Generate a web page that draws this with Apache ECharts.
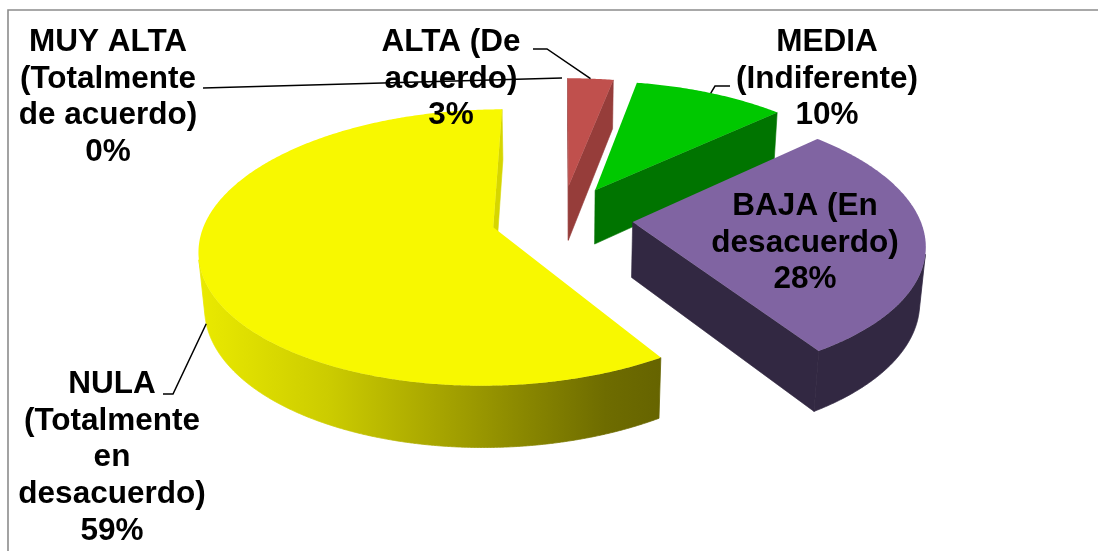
<!DOCTYPE html>
<html>
<head>
<meta charset="utf-8">
<script src="https://cdn.jsdelivr.net/npm/echarts@6/dist/echarts.min.js"></script>
<style>
  html, body { margin: 0; padding: 0; background: #ffffff; }
  #chart { width: 1098px; height: 551px; }
</style>
</head>
<body>
<div id="chart"></div>
<script>
// Survey answers, clockwise from 12 o'clock
const categories = [
  'MUY ALTA\n(Totalmente\nde acuerdo)',
  'ALTA (De\nacuerdo)',
  'MEDIA\n(Indiferente)',
  'BAJA (En\ndesacuerdo)',
  'NULA\n(Totalmente\nen\ndesacuerdo)'
];
const values = [0, 3, 10, 28, 59];

// Face colours per slice: top face, curved rim, cut faces
const palette = [
  { top: '#4F81BD', side: '#385D8A', cut: '#385D8A' },
  { top: '#C0504D', side: '#963D3A', cut: '#963D3A' },
  { top: '#00C800', side: '#007400', cut: '#007400' },
  { top: '#8064A2', side: '#322842', cut: '#322842' },
  { top: '#F8F800', side: null, cut: '#D6D600' }
];
const yellowRimStops = [
  { offset: 0, color: '#EAEA00' },
  { offset: 0.28, color: '#CCCC00' },
  { offset: 0.5, color: '#AAA800' },
  { offset: 0.7, color: '#8A8800' },
  { offset: 0.88, color: '#6E6C00' },
  { offset: 1, color: '#666400' }
];

// 3D view of the pie (unit radius, tilted, with perspective)
const view = {
  cx: 562, cy: 218, scale: 287,
  tilt: 27.5 * Math.PI / 180,
  dist: 6.1,
  thickness: 0.22,
  explode: 0.247
};

// Label boxes (centre x, top y) and leader stubs
const labelLayout = [
  { x: 108, y: 24, stub: [[203, 88]], level: 'top' },
  { x: 451, y: 24, stub: [[533, 49], [547, 49]], level: 'top' },
  { x: 827, y: 24, stub: [[730, 86], [715, 86]], level: 'top' },
  { x: 805, y: 188, stub: null },
  { x: 112, y: 366, stub: [[163, 394], [173, 394]], level: 'bottom' }
];

const font = { fontSize: 31.5, lineHeight: 36.7, fontFamily: '"Liberation Sans", Arial, sans-serif' };

const total = values.reduce((a, b) => a + b, 0);
const starts = [];
values.reduce((acc, v) => { starts.push(acc); return acc + v; }, 0);

const sinT = Math.sin(view.tilt), cosT = Math.cos(view.tilt);
const camera = [0, view.dist * sinT, -view.dist * cosT];

function project(X, Y, Z) {
  const u = Z * sinT + Y * cosT;
  const w = Z * cosT - Y * sinT;
  const s = 1 / (1 + w / view.dist);
  return [view.cx + view.scale * X * s, view.cy - view.scale * u * s];
}

function renderItem(params, api) {
  const i = params.dataIndex;
  const v = api.value(0);
  const a0 = starts[i] / total * Math.PI * 2;
  const a1 = a0 + v / total * Math.PI * 2;
  const mid = (a0 + a1) / 2;
  const ox = view.explode * Math.sin(mid);
  const oz = view.explode * Math.cos(mid);
  const h = view.thickness;
  const rim = (t, y) => project(ox + Math.sin(t), y, oz + Math.cos(t));
  const apex = (y) => project(ox, y, oz);
  const col = palette[i];
  const children = [];
  let z = i * 20;

  if (v > 0) {
    // curved rim: keep only the parts facing the camera
    const n = Math.max(8, Math.ceil((a1 - a0) * 180 / Math.PI * 4));
    const runs = [];
    let run = null;
    for (let k = 0; k <= n; k++) {
      const t = a0 + (a1 - a0) * k / n;
      const px = ox + Math.sin(t), pz = oz + Math.cos(t);
      const facing = (camera[0] - px) * Math.sin(t) + (camera[2] - pz) * Math.cos(t) > 0;
      if (facing) {
        if (!run) { run = []; runs.push(run); }
        run.push(t);
      } else {
        run = null;
      }
    }
    runs.forEach(r => {
      if (r.length < 2) return;
      const pts = r.map(t => rim(t, 0)).concat(r.slice().reverse().map(t => rim(t, -h)));
      const fill = col.side || new echarts.graphic.LinearGradient(0, 0, 1, 0, yellowRimStops);
      children.push({
        type: 'polygon', z2: z++,
        shape: { points: pts },
        style: { fill: fill, stroke: fill, lineWidth: 0.8 }
      });
    });

    // cut faces at the start and end angles
    const startVis = ox * Math.cos(a0) - (view.dist * cosT + oz) * Math.sin(a0) > 0;
    const endVis = -ox * Math.cos(a1) + (view.dist * cosT + oz) * Math.sin(a1) > 0;
    [[a0, startVis], [a1, endVis]].forEach(([a, vis]) => {
      if (!vis) return;
      children.push({
        type: 'polygon', z2: z++,
        shape: { points: [apex(0), rim(a, 0), rim(a, -h), apex(-h)] },
        style: { fill: col.cut, stroke: col.cut, lineWidth: 0.6 }
      });
    });

    // top face
    const topPts = [apex(0)];
    const m = Math.max(8, Math.ceil((a1 - a0) * 180 / Math.PI * 2));
    for (let k = 0; k <= m; k++) topPts.push(rim(a0 + (a1 - a0) * k / m, 0));
    children.push({
      type: 'polygon', z2: z++,
      shape: { points: topPts },
      style: { fill: col.top }
    });
  }

  // data label
  const lay = labelLayout[i];
  const pct = Math.round(v / total * 100);
  children.push({
    type: 'text', z2: 200,
    x: lay.x, y: lay.y,
    style: {
      text: categories[i] + '\n' + pct + '%',
      fill: '#000000',
      fontSize: font.fontSize,
      fontWeight: 'bold',
      fontFamily: font.fontFamily,
      lineHeight: font.lineHeight,
      align: 'center',
      verticalAlign: 'top'
    }
  });

  // leader line from the label to the slice edge
  if (lay.stub) {
    const target = rim(mid, lay.level === 'bottom' ? -h : 0);
    children.push({
      type: 'polyline', z2: 190,
      shape: { points: lay.stub.concat([target]) },
      style: { stroke: '#000000', lineWidth: 1.5, fill: null }
    });
  }

  return { type: 'group', children: children };
}

const chart = echarts.init(document.getElementById('chart'), null, { renderer: 'canvas' });
chart.setOption({
  animation: false,
  backgroundColor: '#ffffff',
  graphic: [{
    type: 'rect', z: -10,
    shape: { x: 8, y: 10, width: 1200, height: 700 },
    style: { fill: null, stroke: '#8C8C8C', lineWidth: 1.6 }
  }],
  series: [{
    type: 'custom',
    coordinateSystem: 'none',
    renderItem: renderItem,
    data: values.map((v, i) => ({ name: categories[i], value: v }))
  }]
});
</script>
</body>
</html>
